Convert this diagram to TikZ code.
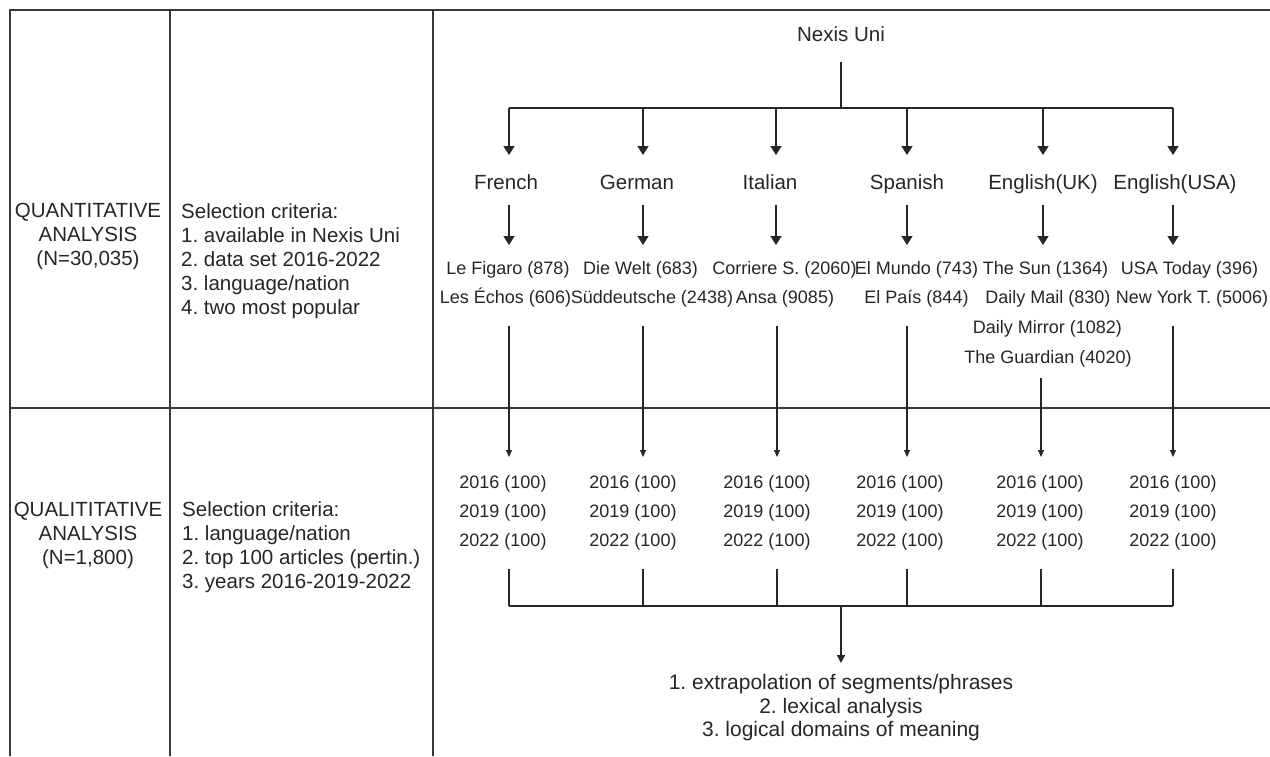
\documentclass[tikz,border=0pt]{standalone}
\usepackage{fontspec}
\setmainfont{Liberation Sans}
\usetikzlibrary{arrows.meta}
\frenchspacing
\begin{document}
\begin{tikzpicture}[x=1pt,y=-1pt,
  tbl/.style={line width=1.8pt, draw=black!78},
  conn/.style={line width=1.5pt, draw=black!85},
  bigarr/.style={conn, -{Triangle[width=11pt,length=9pt]}},
  smallarr/.style={line width=1.1pt, draw=black!85, -{Triangle[width=6pt,length=7pt]}},
  blk/.style={font=\fontsize{20.5}{24}\selectfont\frenchspacing, inner sep=0pt, text=black!85},
  lang/.style={font=\fontsize{20.5}{24}\selectfont, inner sep=0pt, anchor=base, text=black!85},
  paper/.style={font=\fontsize{18}{22}\selectfont, inner sep=0pt, anchor=base, text=black!85},
  yr/.style={font=\fontsize{18}{22}\selectfont, inner sep=0pt, anchor=base, text=black!85},
  res/.style={font=\fontsize{21}{23.5}\selectfont\frenchspacing, inner sep=0pt, align=center, text=black!85}
]
\useasboundingbox (0,0) rectangle (1270,756);

% table
\draw[tbl] (10,756) -- (10,10) -- (1270,10);
\draw[tbl] (170,10) -- (170,756);
\draw[tbl] (433,10) -- (433,756);
\draw[tbl] (10,408) -- (1270,408);

% left column texts
\node[blk, align=center] (quant) at (88,236) {QUANTITATIVE\\ANALYSIS\\(N=30,035)};
\node[blk, align=left, anchor=west] (crit1) at (181,261) {Selection criteria:\\1. available in Nexis Uni\\2. data set 2016-2022\\3. language/nation\\4. two most popular};
\node[blk, align=center] (qual) at (88,535) {QUALITITATIVE\\ANALYSIS\\(N=1,800)};
\node[blk, align=left, anchor=west] (crit2) at (182,547) {Selection criteria:\\1. language/nation\\2. top 100 articles (pertin.)\\3. years 2016-2019-2022};

% coordinates
\foreach \i/\x/\xb in {1/509/509,2/643/643,3/776/777,4/907/907,5/1043/1041,6/1173/1173}{
  \coordinate (b\i) at (\x,108);
  \coordinate (t\i) at (\x,155);
  \coordinate (c\i) at (\x,205);
  \coordinate (d\i) at (\x,245);
  \coordinate (e\i) at (\xb,326);
  \coordinate (f\i) at (\xb,457);
  \coordinate (g\i) at (\xb,569);
  \coordinate (h\i) at (\xb,606);
}
\coordinate (e5) at (1041,378);

% top
\node[lang] (nexis) at (841,41) {Nexis Uni};
\coordinate (top) at (841,62);
\coordinate (topbar) at (841,108);
\draw[conn] (top) -- (topbar);
\draw[conn] (b1) -- (b6);
\foreach \i in {1,...,6}{\draw[bigarr] (b\i) -- (t\i);}

% languages
\node[lang] (l1) at (506,189) {French};
\node[lang] (l2) at (637,189) {German};
\node[lang] (l3) at (770,189) {Italian};
\node[lang] (l4) at (907,189) {Spanish};
\node[lang] (l5) at (1043,189) {English(UK)};
\node[lang] (l6) at (1175,189) {English(USA)};
\foreach \i in {1,...,6}{\draw[bigarr] (c\i) -- (d\i);}

% newspapers
\node[paper] (p11) at (508,274.5) {Le Figaro (878)};
\node[paper] (p12) at (505.5,303.5) {Les Échos (606)};
\node[paper] (p21) at (640.5,274.5) {Die Welt (683)};
\node[paper] (p22) at (652,303.5) {Süddeutsche (2438)};
\node[paper] (p31) at (784.5,274.5) {Corriere S. (2060)};
\node[paper] (p32) at (785,303.5) {Ansa (9085)};
\node[paper] (p41) at (916.5,274.5) {El Mundo (743)};
\node[paper] (p42) at (916.5,303.5) {El País (844)};
\node[paper] (p51) at (1045.5,274.5) {The Sun (1364)};
\node[paper] (p52) at (1048,303.5) {Daily Mail (830)};
\node[paper] (p53) at (1047.5,333.5) {Daily Mirror (1082)};
\node[paper] (p54) at (1048,363.5) {The Guardian (4020)};
\node[paper] (p61) at (1189.5,274.5) {USA Today (396)};
\node[paper] (p62) at (1192,303.5) {New York T. (5006)};

\foreach \i in {1,...,6}{\draw[smallarr] (e\i) -- (f\i);}

% years
\foreach \i/\x in {1/503,2/633,3/767,4/900,5/1040,6/1173}{
  \node[yr] (y\i a) at (\x,488) {2016 (100)};
  \node[yr] (y\i b) at (\x,517) {2019 (100)};
  \node[yr] (y\i c) at (\x,546) {2022 (100)};
  \draw[conn, line width=1.3pt] (g\i) -- (h\i);
}
\draw[conn, line width=1.3pt] (h1) -- (h6);
\coordinate (botbar) at (841,606);
\coordinate (botend) at (841,663);
\draw[smallarr, line width=1.3pt, -{Triangle[width=8pt,length=8pt]}] (botbar) -- (botend);

\node[res] (result) at (841,708) {1. extrapolation of segments/phrases\\2. lexical analysis\\3. logical domains of meaning};
\end{tikzpicture}
\end{document}
